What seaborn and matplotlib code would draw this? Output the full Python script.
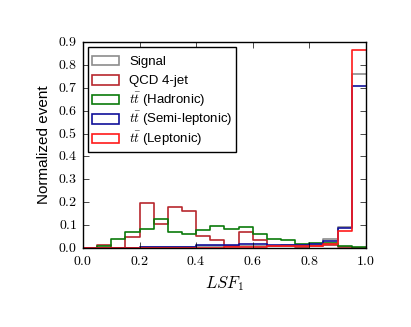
import numpy as np
import pandas as pd
import matplotlib
matplotlib.use("Agg")
import matplotlib.pyplot as plt
from matplotlib.patches import Patch, Rectangle
from matplotlib.legend_handler import HandlerPatch
from matplotlib.ticker import FuncFormatter, MultipleLocator
import seaborn as sns

# 20 bins of width 0.05 on [0, 1]
bin_edges = np.linspace(0.0, 1.0, 21)
bin_centers = 0.5 * (bin_edges[:-1] + bin_edges[1:])

signal = [0, 0, 0, 0, 0.005, 0.006, 0.006, 0.006, 0.008, 0.008,
          0.008, 0.010, 0.010, 0.010, 0.012, 0.012, 0.015, 0.040, 0.090, 0.758]
qcd = [0, 0.015, 0, 0.050, 0.197, 0.106, 0.178, 0.160, 0.053, 0.034,
       0.009, 0.071, 0.034, 0.010, 0.008, 0.006, 0.010, 0.012, 0.005, 0]
tt_had = [0, 0.007, 0.038, 0.072, 0.082, 0.126, 0.072, 0.063, 0.079, 0.094,
          0.082, 0.090, 0.062, 0.040, 0.034, 0.018, 0.024, 0.022, 0.010, 0.003]
tt_semi = [0, 0, 0, 0, 0.004, 0.004, 0.004, 0.004, 0.012, 0.013,
           0.015, 0.017, 0.017, 0.012, 0.012, 0.012, 0.016, 0.031, 0.088, 0.709]
tt_lep = [0, 0, 0, 0, 0, 0, 0, 0, 0, 0,
          0.003, 0.003, 0.005, 0.007, 0.007, 0.007, 0.010, 0.018, 0.075, 0.865]

labels = ["Signal", "QCD 4-jet", r"$t\bar{t}$ (Hadronic)",
          r"$t\bar{t}$ (Semi-leptonic)", r"$t\bar{t}$ (Leptonic)"]
colors = ["#8c8c8c", "#b8282e", "#0a7a0a", "#10109a", "#ff1a1a"]

plt.style.use("classic")
plt.rcParams["font.family"] = ["Liberation Sans", "DejaVu Sans"]
plt.rcParams["mathtext.fontset"] = "cm"

fig = plt.figure(figsize=(4.11, 3.27), dpi=100, facecolor="white")
ax = fig.add_axes([0.202, 0.2416, 0.688, 0.630])
ax.set_facecolor("white")

for vals, col in zip([signal, qcd, tt_had, tt_semi, tt_lep], colors):
    df = pd.DataFrame({"x": bin_centers, "w": vals})
    sns.histplot(data=df, x="x", weights="w", binwidth=0.05, binrange=(0, 1),
                 element="step", fill=False, color=col, linewidth=1.2, ax=ax)

ax.set_xlim(0, 1)
ax.set_ylim(0, 0.9)
ax.xaxis.set_major_locator(MultipleLocator(0.2))
ax.yaxis.set_major_locator(MultipleLocator(0.1))
fmt = FuncFormatter(lambda v, p: r"$%.1f$" % v)
ax.xaxis.set_major_formatter(fmt)
ax.yaxis.set_major_formatter(fmt)
ax.tick_params(labelsize=10)
ax.set_xlabel(r"$LSF_1$", fontsize=12)
ax.set_ylabel("Normalized event", fontsize=11)


# tall handle boxes so every legend row has the same height,
# but only a short rectangle is drawn inside
def short_box(legend, orig_handle, xdescent, ydescent, width, height, fontsize):
    h = 0.72 * fontsize
    return Rectangle((-xdescent, -ydescent + (height - h) / 2), width, h)


handles = [Patch(facecolor="none", edgecolor=c, linewidth=1.2) for c in colors]
leg = ax.legend(handles, labels, loc="upper left", fontsize=9.5, frameon=True,
                labelspacing=0.0, handlelength=2.05, handleheight=1.9,
                borderaxespad=0.4, borderpad=0.25,
                handler_map={Patch: HandlerPatch(patch_func=short_box)})
leg.get_frame().set_edgecolor("black")

fig.savefig("out.png", dpi=100, facecolor="white")
